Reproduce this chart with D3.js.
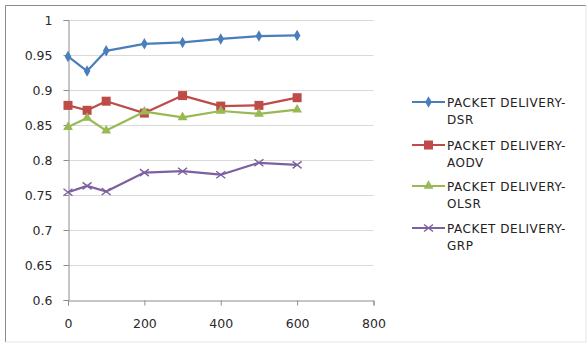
<!DOCTYPE html>
<html>
<head>
<meta charset="utf-8">
<script src="https://cdn.jsdelivr.net/npm/d3@7/dist/d3.min.js"></script>
<style>
  html, body { margin: 0; padding: 0; background: #fff; }
  svg { display: block; font-family: "DejaVu Sans", Verdana, sans-serif; }
</style>
</head>
<body>
<svg id="chart" width="587" height="345"></svg>
<script>
// Node counts on the x axis
const nodes = [0, 50, 100, 200, 300, 400, 500, 600];

// Packet delivery ratio per routing protocol
const dsr  = [0.948, 0.927, 0.956, 0.966, 0.968, 0.973, 0.977, 0.978];
const aodv = [0.878, 0.871, 0.884, 0.867, 0.892, 0.877, 0.878, 0.889];
const olsr = [0.847, 0.860, 0.842, 0.869, 0.861, 0.870, 0.866, 0.872];
const grp  = [0.754, 0.763, 0.755, 0.782, 0.784, 0.779, 0.796, 0.793];

const seriesNames = ["PACKET DELIVERY-DSR", "PACKET DELIVERY-AODV", "PACKET DELIVERY-OLSR", "PACKET DELIVERY-GRP"];
const seriesValues = [dsr, aodv, olsr, grp];
const seriesColors = ["#4a7ebb", "#be4b48", "#98b954", "#7d60a0"];
const seriesMarkers = ["diamond", "square", "triangle", "cross"];

const yTicks = [0.6, 0.65, 0.7, 0.75, 0.8, 0.85, 0.9, 0.95, 1];
const xTicks = [0, 200, 400, 600, 800];

const svg = d3.select("#chart");

// Chart frame
svg.append("path").attr("d", "M5.5,342 L5.5,5.5 L586,5.5")
  .attr("fill", "none").attr("stroke", "#8a8a8a");
svg.append("path").attr("d", "M586,5.5 L586,342 L5.5,342")
  .attr("fill", "none").attr("stroke", "#e6e6e6");

const x = d3.scaleLinear().domain([0, 800]).range([68, 373.5]);
const y = d3.scaleLinear().domain([0.6, 1]).range([300, 20]);

// Horizontal gridlines
svg.append("g").selectAll("line").data(yTicks.filter(d => d > 0.6)).join("line")
  .attr("x1", x(0)).attr("x2", x(800))
  .attr("y1", d => Math.round(y(d)) + 0.5).attr("y2", d => Math.round(y(d)) + 0.5)
  .attr("stroke", "#d9d9d9").attr("stroke-width", 1.2);

const tickFont = "DejaVu Sans, Verdana, sans-serif";

// Y axis
const yAxis = svg.append("g").attr("transform", `translate(${x(0) + 0.5},0)`)
  .call(d3.axisLeft(y).tickValues(yTicks).tickFormat(d => String(+d.toFixed(2))).tickSizeOuter(0).tickSize(5).tickPadding(11));
yAxis.select(".domain").attr("stroke", "#8c8c8c");
yAxis.selectAll(".tick line").attr("stroke", "#8c8c8c");
yAxis.selectAll(".tick text").attr("font-size", 12.5).attr("fill", "#2a2a2a").attr("font-family", tickFont);

// X axis
const xAxis = svg.append("g").attr("transform", `translate(0,${y(0.6) + 0.5})`)
  .call(d3.axisBottom(x).tickValues(xTicks).tickFormat(d3.format("d")).tickSizeOuter(0).tickSize(5).tickPadding(14));
xAxis.select(".domain").attr("stroke", "#8c8c8c");
xAxis.selectAll(".tick line").attr("stroke", "#8c8c8c");
xAxis.selectAll(".tick text").attr("font-size", 12.5).attr("fill", "#2a2a2a").attr("font-family", tickFont);

const line = d3.line().x((d, i) => x(nodes[i])).y(d => y(d));

function drawMarker(g, type, color) {
  if (type === "diamond") {
    g.append("path").attr("d", d3.symbol(d3.symbolDiamond, 38)()).attr("fill", color);
  } else if (type === "square") {
    g.append("rect").attr("x", -4.5).attr("y", -4.5).attr("width", 9).attr("height", 9).attr("fill", color);
  } else if (type === "triangle") {
    g.append("path").attr("d", d3.symbol(d3.symbolTriangle, 42)()).attr("fill", color);
  } else {
    g.append("path").attr("d", "M-4.5,-3.5 L4.5,3.5 M-4.5,3.5 L4.5,-3.5")
      .attr("stroke", color).attr("stroke-width", 1.4).attr("fill", "none");
  }
}

seriesValues.forEach((vals, s) => {
  const g = svg.append("g");
  g.append("path").datum(vals).attr("d", line)
    .attr("fill", "none").attr("stroke", seriesColors[s]).attr("stroke-width", 2.2)
    .attr("stroke-linejoin", "round");
  vals.forEach((v, i) => {
    const m = g.append("g").attr("transform", `translate(${x(nodes[i])},${y(v)})`);
    drawMarker(m, seriesMarkers[s], seriesColors[s]);
  });
});

// Legend
const legendTop = [102, 145, 186, 228];
seriesNames.forEach((name, s) => {
  const g = svg.append("g").attr("transform", `translate(0,${legendTop[s]})`);
  g.append("line").attr("x1", 412).attr("x2", 445).attr("y1", 0).attr("y2", 0)
    .attr("stroke", seriesColors[s]).attr("stroke-width", 2.2);
  const m = g.append("g").attr("transform", "translate(428.5,0)");
  drawMarker(m, seriesMarkers[s], seriesColors[s]);
  const parts = name.split("-");
  const t = g.append("text").attr("x", 447).attr("y", 4.5)
    .attr("font-size", 12).attr("fill", "#222").attr("letter-spacing", 0.55);
  t.append("tspan").attr("x", 447).attr("dy", 0).text(parts[0] + "-");
  t.append("tspan").attr("x", 447).attr("dy", 17.5).text(parts[1]);
});
</script>
</body>
</html>
